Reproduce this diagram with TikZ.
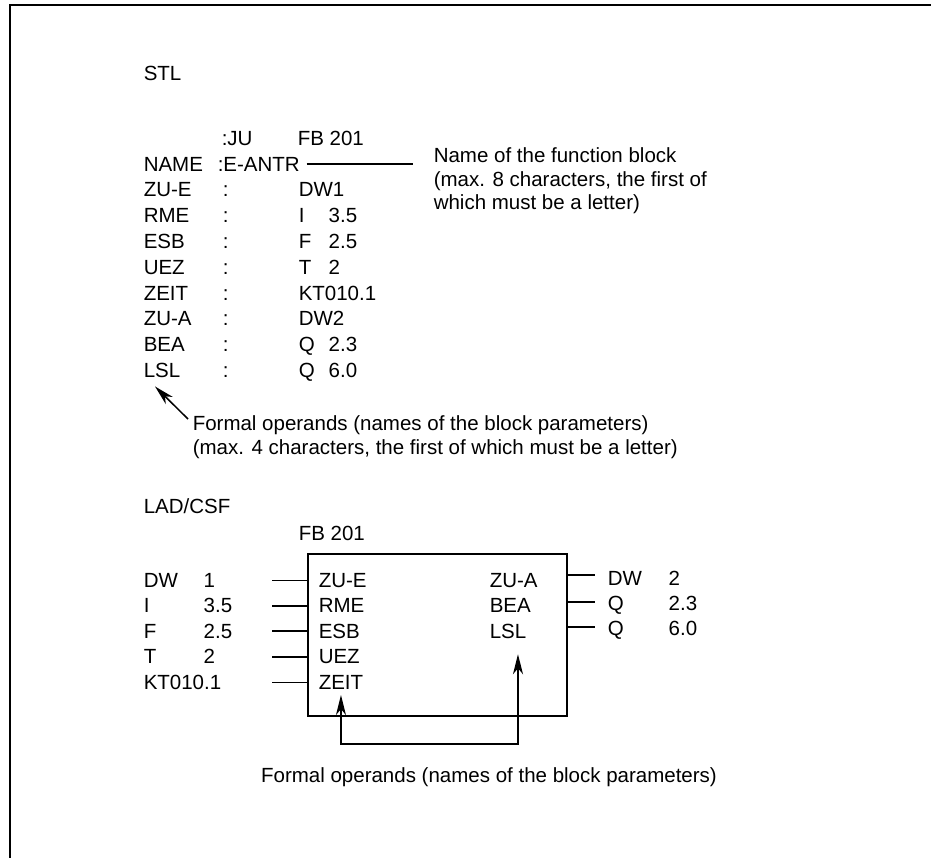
\documentclass[tikz,border=0pt]{standalone}
\usepackage{fontspec}
\setmainfont{Liberation Sans}
\usetikzlibrary{arrows.meta}

\begin{document}
\begin{tikzpicture}[x=1pt,y=-1pt,line width=1.5pt,
  every node/.style={font=\fontsize{20.5}{23.5}\selectfont,inner sep=0pt,anchor=base west},
  txt/.style={align=left,anchor=north west},
  opdarrow/.style={-{Stealth[length=20pt,width=10pt,inset=6pt]}},
  bothends/.style={{Stealth[length=20pt,width=10pt,inset=6pt]}-{Stealth[length=20pt,width=10pt,inset=6pt]}}]
  \useasboundingbox (0,0) rectangle (931,858);
  \draw[line width=2pt] (9.5,858) -- (9.5,5.5) -- (931,5.5);

  % STL listing
  \node (stl) at (143,80.3) {STL};
  \node (ju) at (221,145.3) {:JU};
  \node (fbstl) at (297,145.3) {FB 201};
  \node (name) at (143,171.1) {NAME};
  \node (ename) at (217,171.1) {:E-ANTR};
  \foreach \opd/\sig/\adr [count=\i from 2] in {ZU-E/DW1/, RME/I/3.5, ESB/F/2.5, UEZ/T/2,
      ZEIT/KT010.1/, ZU-A/DW2/, BEA/Q/2.3, LSL/Q/6.0} {
    \node (opd\i) at (143,{145.3+25.8*\i}) {\opd};
    \node (col\i) at (222,{145.3+25.8*\i}) {:};
    \node (act\i) at (298,{145.3+25.8*\i}) {\makebox[30pt][l]{\sig}\adr};
  }
  \node[txt] (fbname) at (433,147) {Name of the function block\\(max. 8 characters, the first of\\which must be a letter)};
  \draw[shorten <=6pt,shorten >=20pt] (ename.east) -- (ename.east -| fbname.west);
  \node[txt] (fopstl) at (192,415) {Formal operands (names of the block parameters)\\(max. 4 characters, the first of which must be a letter)};
  \draw[opdarrow] ([shift={(-4pt,-4pt)}]fopstl.north west) -- ([shift={(12pt,-8pt)}]opd9.south west);

  % LAD/CSF box
  \node (lad) at (143,513.3) {LAD/CSF};
  \node (fblad) at (298,540.3) {FB 201};
  \node[draw,line width=1.8pt,minimum width=259pt,minimum height=162pt,anchor=center] (fb) at (437.5,635) {};
  \foreach \sig/\adr/\fp [count=\i from 0] in {DW/1/ZU-E, I/3.5/RME, F/2.5/ESB, T/2/UEZ, KT010.1//ZEIT} {
    \node (in\i) at (143,{587.3+25.5*\i}) {\makebox[60pt][l]{\sig}\adr};
    \node (pin\i) at (318,{587.3+25.5*\i}) {\fp};
    \draw ([xshift=-35pt]pin\i.west -| fb.west) -- (pin\i.west -| fb.west);
  }
  \foreach \fp/\sig/\adr [count=\i from 0] in {ZU-A/DW/2, BEA/Q/2.3, LSL/Q/6.0} {
    \node (pout\i) at (489,{587.3+25.5*\i}) {\fp};
    \node (out\i) at (607,{585.3+25*\i}) {\makebox[61pt][l]{\sig}\adr};
    \draw ([yshift=3pt]out\i.west -| fb.east) -- ([shift={(-12pt,3pt)}]out\i.west);
  }
  \coordinate (tipz) at ([yshift=-5pt]pin4.south);
  \coordinate (tipl) at ([shift={(10pt,-15pt)}]pout2.south);
  \coordinate (fobot) at ([yshift=-27pt]fb.south);
  \draw[bothends] (tipz) -- (tipz |- fobot) -- (tipl |- fobot) -- (tipl);
  \node[anchor=base] (foplad) at (489,782) {Formal operands (names of the block parameters)};
\end{tikzpicture}
\end{document}
